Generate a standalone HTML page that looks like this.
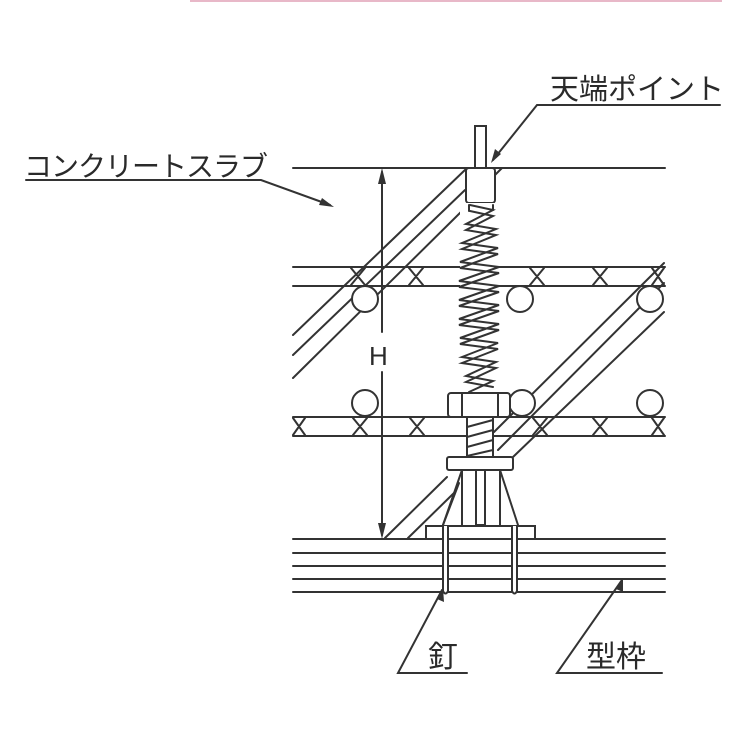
<!DOCTYPE html>
<html><head><meta charset="utf-8"><style>
html,body{margin:0;padding:0;background:#fff;}
svg{display:block;}
text{font-family:"Liberation Sans","Noto Sans CJK JP",sans-serif;fill:#2a2a2a;}
</style></head><body>
<svg width="752" height="739" viewBox="0 0 752 739" xmlns="http://www.w3.org/2000/svg">
<line x1="190" y1="1" x2="722" y2="1" stroke="#e8b8c8" stroke-width="2"/>
<g stroke="#333" stroke-width="2" fill="none" stroke-linecap="round">
<line x1="293" y1="168" x2="665" y2="168"/>
<line x1="293" y1="267" x2="665" y2="267"/>
<line x1="293" y1="286" x2="665" y2="286"/>
<line x1="293" y1="417" x2="665" y2="417"/>
<line x1="293" y1="436" x2="665" y2="436"/>
<path d="M351 268 L365 285 M365 268 L351 285 M409 268 L423 285 M423 268 L409 285 M530 268 L544 285 M544 268 L530 285 M593 268 L607 285 M607 268 L593 285 M652 268 L664 285 M664 268 L652 285"/>
<path d="M293 418 L305 435 M305 418 L293 435 M353 418 L367 435 M367 418 L353 435 M410 418 L424 435 M424 418 L410 435 M533 418 L547 435 M547 418 L533 435 M593 418 L607 435 M607 418 L593 435 M652 418 L664 435 M664 418 L652 435"/>
<line x1="293" y1="335" x2="466" y2="169"/>
<line x1="293" y1="355" x2="465" y2="190"/>
<line x1="293" y1="378" x2="466" y2="207"/>
<line x1="495" y1="175" x2="502" y2="168"/>
<line x1="664" y1="263" x2="494" y2="432"/>
<line x1="664" y1="283" x2="498" y2="450"/>
<line x1="664" y1="312" x2="513" y2="457"/>
<line x1="447" y1="477" x2="385" y2="538"/>
<line x1="455" y1="492" x2="408" y2="538"/>
<line x1="459" y1="483" x2="443" y2="525"/>
<g fill="#fff">
<circle cx="365" cy="299" r="13"/><circle cx="520" cy="299" r="13"/><circle cx="650" cy="299" r="13"/>
<circle cx="365" cy="403" r="13"/><circle cx="522" cy="403" r="13"/><circle cx="650" cy="403" r="13"/>
</g>
<rect x="475" y="126" width="11" height="42" fill="#fff"/>
<rect x="466" y="168" width="29" height="35" rx="3" fill="#fff"/>
<rect x="460" y="203" width="39" height="190" fill="#fff" stroke="none"/>
<polyline points="470,205 493,210 466,224 496,229 462,243 498,248 460,262 499,267 459,281 499,286 459,300 499,305 459,319 499,324 460,338 498,343 462,357 496,362 466,376 493,381 469,392"/>
<polyline points="470,211 493,216 466,230 496,235 462,249 498,254 460,268 499,273 459,287 499,292 459,306 499,311 459,325 499,330 460,344 498,349 462,363 496,368 466,382 493,387"/>
<line x1="469" y1="205" x2="469" y2="211"/><line x1="493" y1="205" x2="493" y2="210"/>
<rect x="448" y="393" width="62" height="24" rx="3" fill="#fff"/>
<line x1="462" y1="393" x2="462" y2="417"/><line x1="498" y1="393" x2="498" y2="417"/>
<rect x="467" y="417" width="26" height="40" fill="#fff"/>
<path d="M467 427 L493 420 M467 437 L493 430 M467 447 L493 440 M467 456 L493 450"/>
<rect x="447" y="457" width="66" height="13" rx="2" fill="#fff"/>
<path d="M462 470 L443 525 M500 470 L518 525" />
<line x1="462" y1="470" x2="462" y2="525"/><line x1="500" y1="470" x2="500" y2="525"/>
<rect x="476" y="470" width="9" height="55"/>
<rect x="426" y="526" width="109" height="13" fill="#fff"/>
<line x1="293" y1="539" x2="665" y2="539"/>
<line x1="293" y1="553" x2="665" y2="553"/>
<line x1="293" y1="566" x2="665" y2="566"/>
<line x1="293" y1="579" x2="665" y2="579"/>
<line x1="293" y1="592" x2="665" y2="592"/>
<path d="M443 526 L443 591 Q445.5 596 448 591 L448 526" fill="#fff"/>
<path d="M512 526 L512 591 Q514.5 596 517 591 L517 526" fill="#fff"/>
<line x1="382" y1="172" x2="382" y2="332"/>
<line x1="382" y1="372" x2="382" y2="535"/>
<polyline points="720,105 537,105 493,160"/>
<polyline points="26,180 261,180 330,205"/>
<polyline points="467,673 398,673 442,590"/>
<polyline points="662,673 557,673 622,580"/>
</g>
<g fill="#333">
<polygon points="382,168 378,184 386,184"/>
<polygon points="382,539 378,523 386,523"/>
<polygon points="491,163 495,149 501,154"/>
<polygon points="334,207 319,205 322,198"/>
<polygon points="443,588 444,602 437,599"/>
<polygon points="623,578 623,592 616,589"/>
</g>
<text x="550" y="99" font-size="29">天端ポイント</text>
<text x="24" y="176" font-size="28" letter-spacing="-1">コンクリートスラブ</text>
<text x="369" y="365" font-size="26">H</text>
<text x="428" y="667" font-size="30">釘</text>
<text x="586" y="667" font-size="30">型枠</text>
</svg>
</body></html>
